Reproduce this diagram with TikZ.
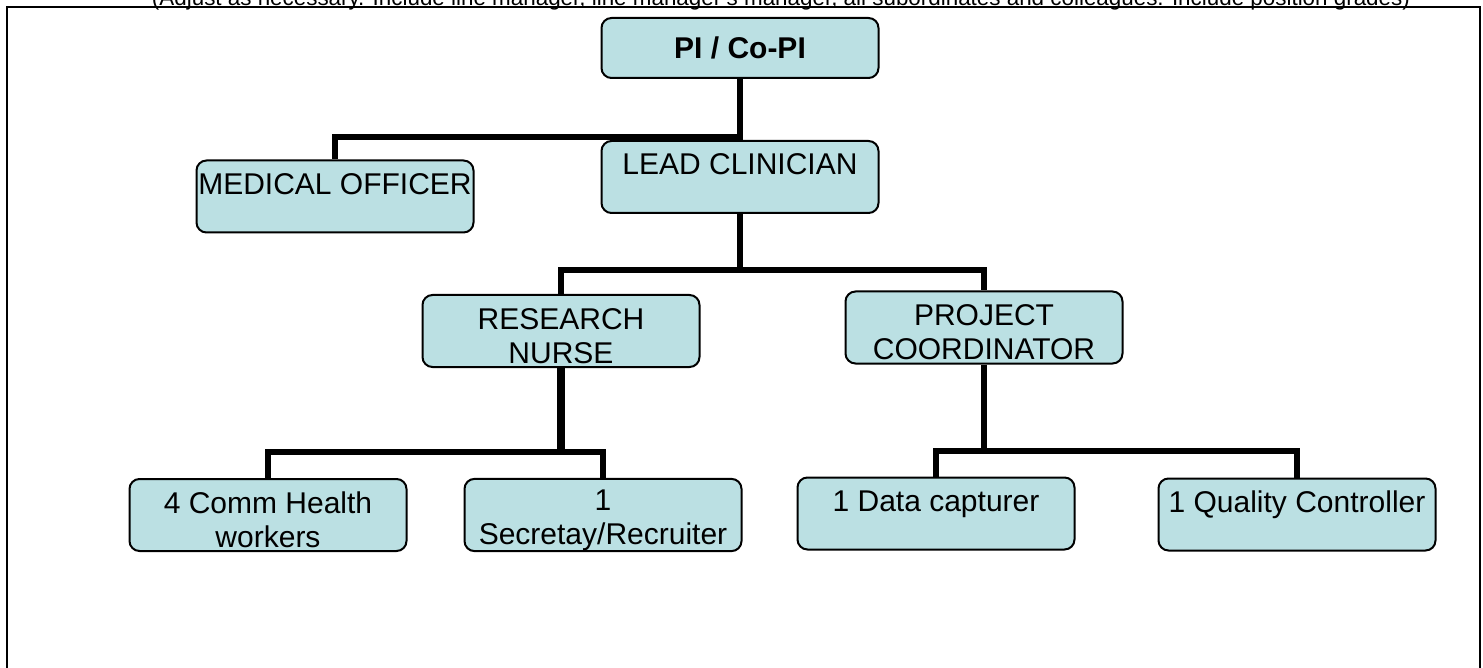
\documentclass[tikz,border=0pt]{standalone}
\usepackage{fontspec}
\setmainfont{Liberation Sans}
\definecolor{postfill}{RGB}{187,224,227}
\newcommand{\postlines}[2]{\rule{0pt}{16pt}#1\\#2\rule[-1pt]{0pt}{0pt}}
\tikzset{
  box/.style={draw, line width=1pt, rounded corners=5pt, fill=postfill,
    minimum width=138.5pt, minimum height=36pt, inner sep=0pt, align=center,
    font=\fontsize{15}{17}\selectfont},
  link/.style={line width=3pt},
}
\begin{document}
\begin{tikzpicture}[x=0.5pt, y=-0.5pt]
\useasboundingbox (0,0) rectangle (1483,668);
\node (note) at (781,5.5) [anchor=base, font=\fontsize{11.2}{13}\selectfont] {(Adjust as necessary. Include line manager, line manager's manager, all subordinates and colleagues. Include position grades)};
\draw[line width=1pt] (7,700) -- (7,7) -- (1480,7) -- (1480,700);
% boxes
\node[box, minimum height=30pt, font=\fontsize{15}{17}\selectfont\bfseries] (pi) at (740,48) {PI / Co-PI};
\node[box] (lead) at (740,177) {\postlines{LEAD CLINICIAN}{}};
\node[box] (med) at (335,196.5) {\postlines{MEDICAL OFFICER}{}};
\node[box] (nurse) at (561,331) {\postlines{RESEARCH}{NURSE}};
\node[box] (coord) at (984,327.5) {\postlines{PROJECT}{COORDINATOR}};
\node[box] (chw) at (268,515) {\postlines{4 Comm Health}{workers}};
\node[box] (sec) at (603,515) {\postlines{1}{Secretay/Recruiter}};
\node[box] (data) at (936,513.5) {\postlines{1 Data capturer}{}};
\node[box] (qc) at (1297,514.5) {\postlines{1 Quality Controller}{}};
% joints
\coordinate (j1) at (740,137);
\coordinate (j2) at (740,270);
\coordinate (j3) at (561,452);
\coordinate (j4) at (984,451);
% lines
\draw[link] (pi.south) -- (j1) -- (lead.north);
\draw[link] (j1) -| (med.north);
\draw[link] (lead.south) -- (j2);
\draw[link] (j2) -| (nurse.north);
\draw[link] (j2) -| (coord.north);
\draw[link, line width=4pt] (nurse.south) -- (j3);
\draw[link] (j3) -| (chw.north);
\draw[link] (j3) -| (sec.north);
\draw[link] (coord.south) -- (j4);
\draw[link] (j4) -| (data.north);
\draw[link] (j4) -| (qc.north);
\end{tikzpicture}
\end{document}
